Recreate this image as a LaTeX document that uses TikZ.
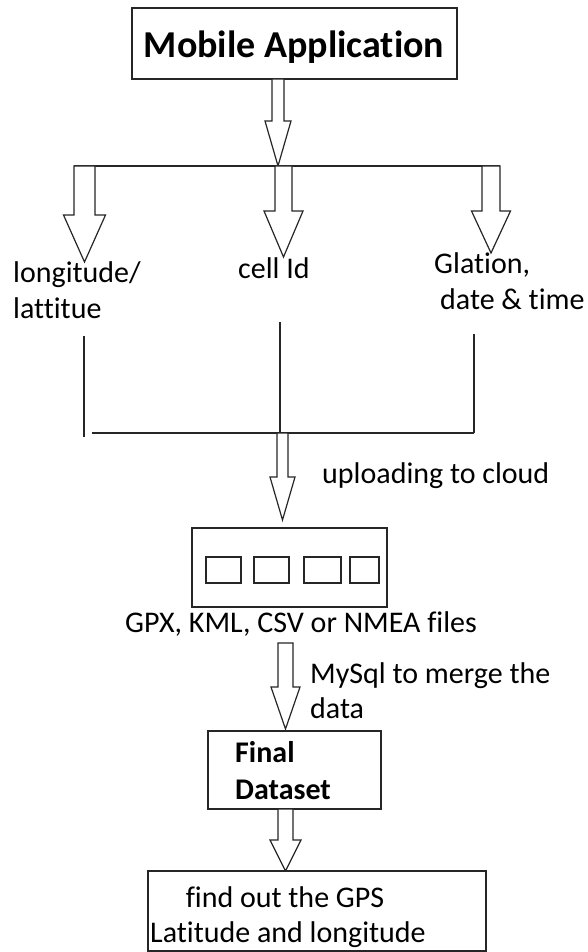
\documentclass[tikz,border=0pt]{standalone}
\usepackage{fontspec}
\setmainfont[Ligatures={NoCommon}]{Carlito}
\newcommand{\blockarr}[6]{% cx, top, headtop, tip, shaft half width, head half width
  \draw[barrow] ({#1-#5},#2) -- ({#1-#5},#3) -- ({#1-#6},#3) -- (#1,#4) -- ({#1+#6},#3) -- ({#1+#5},#3) -- ({#1+#5},#2) -- cycle;}
\begin{document}
\begin{tikzpicture}[x=1pt,y=-1pt,
  ln/.style={line width=1.4pt, draw=black!85},
  boxst/.style={draw=black!85, line width=1.4pt, fill=white},
  barrow/.style={draw=black!85, line width=1.2pt, fill=white, line join=miter},
  txt/.style={inner sep=0pt, anchor=base west, text=black, font=\fontsize{30}{36}\selectfont},
  ctxt/.style={txt, anchor=base},
  btxt/.style={txt, font=\fontsize{30}{36}\selectfont\bfseries},
  htxt/.style={ctxt, font=\fontsize{38}{46}\selectfont\bfseries}]
\useasboundingbox (0,0) rectangle (587,952);

% Mobile application box
\draw[boxst] (132,8) rectangle (457,79);
\node[htxt] (mob) at (294,58) {Mobile Application};

% top block arrow
\blockarr{278}{79}{121}{166}{6}{13}

% top distribution line
\coordinate (tl) at (74,166);
\coordinate (tr) at (500,166);
\draw[ln] (tl) -- (tr);

% three block arrows
\blockarr{84.5}{166}{215}{262}{10.5}{21}
\blockarr{283.5}{166}{211}{257}{8.5}{19.5}
\blockarr{491}{166}{211}{253}{9}{19.5}

% labels
\node[txt] (lon1) at (13,282) {longitude/};
\node[txt] (lon2) at (13,318) {lattitue};
\node[txt] (cell) at (238,278) {cell Id};
\node[txt] (gla1) at (434,273) {Glation,};
\node[txt] (gla2) at (440,309) {date \& time};

% collecting lines
\coordinate (v1t) at (84,336);  \coordinate (v1b) at (84,437);
\coordinate (v2t) at (280,322); \coordinate (v2b) at (280,433);
\coordinate (v3t) at (474,334); \coordinate (v3b) at (474,433);
\coordinate (hbl) at (92,433);
\draw[ln] (v1t) -- (v1b);
\draw[ln] (v2t) -- (v2b);
\draw[ln] (v3t) -- (v3b);
\draw[ln] (hbl) -- (v3b);

% upload arrow
\blockarr{282.5}{433}{477}{520}{5.5}{12.5}
\node[txt] (upl) at (322,483) {uploading to cloud};

% files box
\draw[boxst] (192,528) rectangle (387,607);
\draw[boxst] (206,557) rectangle (241,583);
\draw[boxst] (254,557) rectangle (289,583);
\draw[boxst] (304,557) rectangle (341,583);
\draw[boxst] (350,557) rectangle (379,583);
\node[txt] (files) at (125,632) {GPX, KML, CSV or NMEA files};

% mysql arrow
\blockarr{285.5}{643}{687}{729}{7.5}{14.5}
\node[txt] (my1) at (310,683) {MySql to merge the};
\node[txt] (my2) at (310,718) {data};

% final dataset
\draw[boxst] (208,731) rectangle (381,809);
\node[btxt] (fin1) at (235,762) {Final};
\node[btxt] (fin2) at (235,799) {Dataset};

% last arrow
\blockarr{285.5}{809}{840}{871}{7.5}{15.5}

% result box
\draw[boxst] (148,871) rectangle (486,951);
\node[ctxt] (res1) at (285,907) {find out the GPS};
\node[ctxt] (res2) at (288,942) {Latitude and longitude};
\end{tikzpicture}
\end{document}
